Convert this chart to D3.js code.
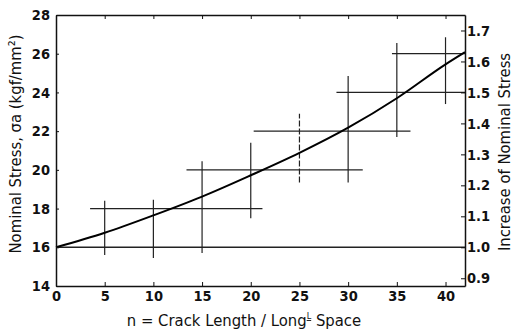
<!DOCTYPE html>
<html>
<head>
<meta charset="utf-8">
<script src="https://cdn.jsdelivr.net/npm/d3@7"></script>
<style>
  body { margin: 0; background: #fff; }
  svg { display: block; }
  .axis text { font-family: "DejaVu Sans Condensed", "DejaVu Sans", sans-serif; font-stretch: condensed; font-size: 14.5px; font-weight: bold; fill: #111; }
  .axis path, .axis line { stroke: #111; }
  .title { font-family: "DejaVu Sans Condensed", "DejaVu Sans", sans-serif; font-stretch: condensed; font-size: 16.5px; fill: #111; }
</style>
</head>
<body>
<svg width="514" height="330"></svg>
<script>
// tick labels
const xTicks = [0, 5, 10, 15, 20, 25, 30, 35, 40]
const yTicks = [14, 16, 18, 20, 22, 24, 26, 28]
const rTicks = [0.9, 1.0, 1.1, 1.2, 1.3, 1.4, 1.5, 1.6, 1.7]

// fitted curve (n vs nominal stress)
const curveN = [0, 5, 10, 15, 20, 25, 30, 35, 40, 42]
const curveStress = [16, 16.75, 17.65, 18.62, 19.72, 20.88, 22.18, 23.7, 25.45, 26.08]

// horizontal bars: stress level and n range
const hLevel = [16, 18, 20, 22, 24, 26]
const hFrom = [0, 3.5, 13.4, 20.3, 28.8, 34.5]
const hTo = [42, 21.2, 31.5, 36.4, 42, 42]

// vertical bars: n position and stress range
const vN = [5, 10, 15, 20, 25, 30, 35, 40]
const vLow = [15.6, 15.45, 15.7, 17.5, 19.35, 19.35, 21.7, 23.4]
const vHigh = [18.4, 18.45, 20.45, 21.4, 22.9, 24.85, 26.55, 26.85]

const svg = d3.select('svg')
const margin = {top: 15, right: 49, bottom: 44, left: 56}
const width = 514 - margin.left - margin.right
const height = 330 - margin.top - margin.bottom
const g = svg.append('g').attr('transform', 'translate(' + margin.left + ',' + margin.top + ')')

const x = d3.scaleLinear().domain([0, 42]).range([0, width])
const y = d3.scaleLinear().domain([14, 28]).range([height, 0])
// right axis is stress relative to 16 kgf/mm2
const yR = d3.scaleLinear().domain([14 / 16, 28 / 16]).range([height, 0])

// crosses
g.append('g').selectAll('line')
  .data(hLevel)
  .enter().append('line')
    .attr('x1', (d, i) => x(hFrom[i]))
    .attr('x2', (d, i) => x(hTo[i]))
    .attr('y1', d => y(d))
    .attr('y2', d => y(d))
    .attr('stroke', '#222')
    .attr('stroke-width', (d) => d === 16 ? 1.6 : 1.2)

g.append('g').selectAll('line')
  .data(vN)
  .enter().append('line')
    .attr('x1', d => x(d))
    .attr('x2', d => x(d))
    .attr('y1', (d, i) => y(vLow[i]))
    .attr('y2', (d, i) => y(vHigh[i]))
    .attr('stroke', '#222')
    .attr('stroke-width', 1.2)
    .attr('stroke-dasharray', (d) => d === 25 ? '6,2' : null)

// curve
const line = d3.line()
  .x((d, i) => x(curveN[i]))
  .y(d => y(d))
  .curve(d3.curveMonotoneX)

g.append('path')
  .datum(curveStress)
  .attr('d', line)
  .attr('fill', 'none')
  .attr('stroke', '#000')
  .attr('stroke-width', 2)

// axes
g.append('g').attr('class', 'axis')
  .call(d3.axisLeft(y).tickValues(yTicks).tickSize(-3).tickSizeOuter(0).tickPadding(6))

g.append('g').attr('class', 'axis')
  .attr('transform', 'translate(0,' + height + ')')
  .call(d3.axisBottom(x).tickValues(xTicks).tickSize(-4).tickSizeOuter(0).tickPadding(5))

g.append('g').attr('class', 'axis')
  .call(d3.axisTop(x).tickValues(xTicks).tickSize(-4).tickSizeOuter(0).tickFormat(''))

g.append('g').attr('class', 'axis')
  .attr('transform', 'translate(' + width + ',0)')
  .call(d3.axisRight(yR).tickValues(rTicks).tickSize(-4).tickSizeOuter(0).tickPadding(2).tickFormat(d3.format('.1f')))

g.selectAll('.axis path.domain').attr('stroke-width', 1.5)

// titles
const xt = svg.append('text')
  .attr('class', 'title')
  .attr('x', 244)
  .attr('y', 326)
  .attr('text-anchor', 'middle')
xt.append('tspan').text('n = Crack Length / Long')
xt.append('tspan').attr('font-size', '9px').attr('dy', -7).attr('text-decoration', 'underline').text('L')
xt.append('tspan').attr('dy', 7).text('  Space')

svg.append('text')
  .attr('class', 'title')
  .attr('transform', 'translate(21,144) rotate(-90)')
  .attr('text-anchor', 'middle')
  .text('Nominal Stress, σa (kgf/mm²)')

svg.append('text')
  .attr('class', 'title')
  .attr('transform', 'translate(510,152) rotate(-90)')
  .attr('text-anchor', 'middle')
  .text('Increase of Nominal Stress')
</script>
</body>
</html>
